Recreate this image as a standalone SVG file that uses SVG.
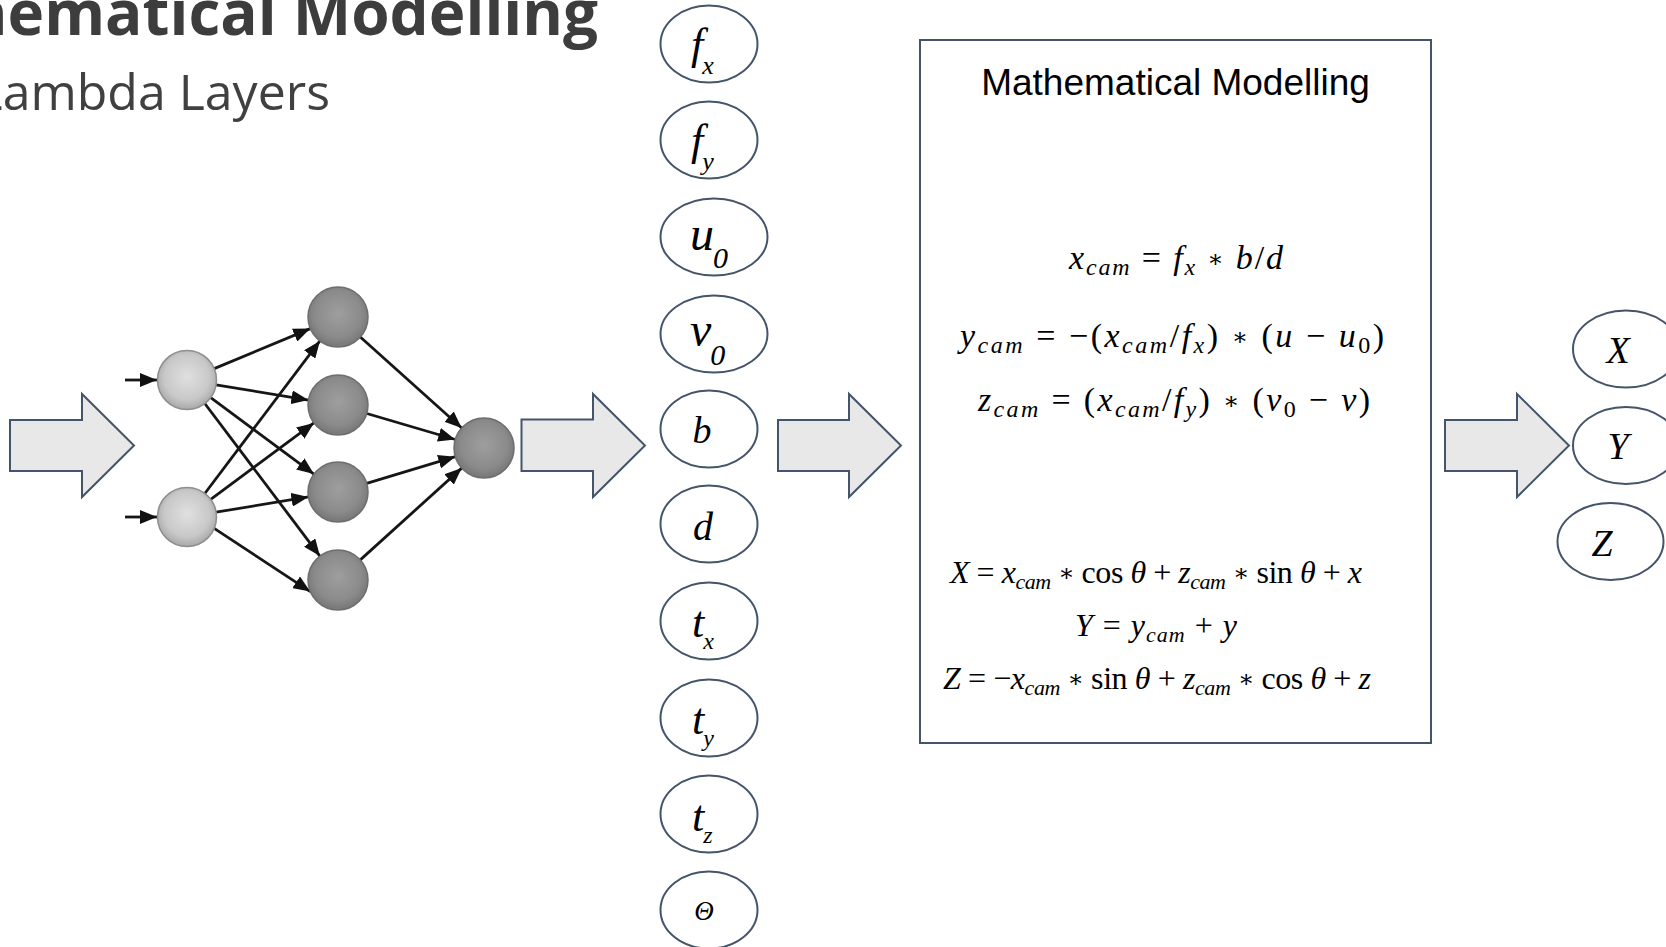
<svg xmlns="http://www.w3.org/2000/svg" width="1666" height="947" viewBox="0 0 1666 947">
<style>
.blk{fill:#e8e8e8;stroke:#44546a;stroke-width:2;stroke-linejoin:miter}
.ell{fill:#ffffff;stroke:#44546a;stroke-width:2}
.lbl{font-family:"Liberation Serif","Times New Roman",serif;font-style:italic;fill:#000}
.eq{font-family:"Liberation Serif","Times New Roman",serif;font-size:34px;fill:#000}
.eqb{font-family:"Liberation Serif","Times New Roman",serif;font-size:32px;fill:#000}
.i{font-style:italic}
.s{font-size:24px}
.s2{font-size:22px}
.ast{font-family:"DejaVu Serif",serif;font-size:24px;font-style:normal}
.edge{stroke:#161616;stroke-width:2.8;fill:none;marker-end:url(#ah)}
</style>
<defs>
<marker id="ah" markerUnits="userSpaceOnUse" markerWidth="18" markerHeight="14" refX="17" refY="7" orient="auto">
<path d="M0,0 L17,7 L0,14 z" fill="#111"/>
</marker>
<radialGradient id="gIn" cx="0.5" cy="0.45" r="0.55">
<stop offset="0" stop-color="#e0e0e0"/>
<stop offset="0.7" stop-color="#c8c8c8"/>
<stop offset="1" stop-color="#a8a8a8"/>
</radialGradient>
<radialGradient id="gHid" cx="0.5" cy="0.45" r="0.55">
<stop offset="0" stop-color="#9e9e9e"/>
<stop offset="0.7" stop-color="#8b8b8b"/>
<stop offset="1" stop-color="#767676"/>
</radialGradient>
</defs>
<rect width="1666" height="947" fill="#ffffff"/>

<g id="title">
<text x="598" y="35" text-anchor="end" font-family="'Open Sans',sans-serif" font-weight="700" font-size="62" fill="#3d3d3d">Mathematical Modelling</text>
<text x="330" y="110" text-anchor="end" font-family="'Open Sans',sans-serif" font-size="50" fill="#404040">Lambda Layers</text>
</g>

<g id="connectors">
<path class="blk" d="M10,420 H82 V394 L134,445.5 L82,497 V471 H10 Z"/>
<path class="blk" d="M521.5,419.5 H593 V394 L645,445.5 L593,497 V471 H521.5 Z"/>
<path class="blk" d="M778,420 H849 V394 L901,445.5 L849,497 V471 H778 Z"/>
<path class="blk" d="M1445,420 H1517 V394 L1569,445.5 L1517,497 V471 H1445 Z"/>
<line class="edge" x1="125" y1="380" x2="157" y2="380"/>
<line class="edge" x1="125" y1="517" x2="157" y2="517"/>
<line class="edge" x1="214.2" y1="368.6" x2="310.3" y2="328.6"/>
<line class="edge" x1="216.1" y1="384.8" x2="308.4" y2="400.1"/>
<line class="edge" x1="210.7" y1="397.6" x2="313.9" y2="474.1"/>
<line class="edge" x1="204.8" y1="403.5" x2="319.9" y2="556.1"/>
<line class="edge" x1="204.8" y1="493.5" x2="319.9" y2="340.9"/>
<line class="edge" x1="210.7" y1="499.4" x2="313.9" y2="422.9"/>
<line class="edge" x1="216.1" y1="512.2" x2="308.4" y2="496.9"/>
<line class="edge" x1="214.2" y1="528.4" x2="310.3" y2="591.6"/>
<line class="edge" x1="360.3" y1="337.0" x2="461.7" y2="428.0"/>
<line class="edge" x1="366.8" y1="413.5" x2="455.2" y2="439.5"/>
<line class="edge" x1="366.7" y1="483.3" x2="455.3" y2="456.7"/>
<line class="edge" x1="360.3" y1="559.9" x2="461.7" y2="468.1"/>
</g>

<g id="nn-in1"><circle cx="187" cy="380" r="29.5" fill="url(#gIn)" stroke="#8e8e8e" stroke-width="1.5"/></g>
<g id="nn-in2"><circle cx="187" cy="517" r="29.5" fill="url(#gIn)" stroke="#8e8e8e" stroke-width="1.5"/></g>
<g id="nn-h1"><circle cx="338" cy="317" r="30" fill="url(#gHid)" stroke="#6e6e6e" stroke-width="1.5"/></g>
<g id="nn-h2"><circle cx="338" cy="405" r="30" fill="url(#gHid)" stroke="#6e6e6e" stroke-width="1.5"/></g>
<g id="nn-h3"><circle cx="338" cy="492" r="30" fill="url(#gHid)" stroke="#6e6e6e" stroke-width="1.5"/></g>
<g id="nn-h4"><circle cx="338" cy="580" r="30" fill="url(#gHid)" stroke="#6e6e6e" stroke-width="1.5"/></g>
<g id="nn-out"><circle cx="484" cy="448" r="30" fill="url(#gHid)" stroke="#6e6e6e" stroke-width="1.5"/></g>

<g id="p-fx"><ellipse class="ell" cx="709" cy="44" rx="48.5" ry="38.5"/>
<text class="lbl" x="691" y="59" font-size="44">f<tspan font-size="26" dy="15" dx="-1">x</tspan></text></g>
<g id="p-fy"><ellipse class="ell" cx="709" cy="140" rx="48.5" ry="38.5"/>
<text class="lbl" x="691" y="155" font-size="44">f<tspan font-size="26" dy="15" dx="-1">y</tspan></text></g>
<g id="p-u0"><ellipse class="ell" cx="714" cy="237" rx="53.5" ry="38.5"/>
<text class="lbl" x="690" y="250" font-size="48">u<tspan font-size="30" dy="18" dx="-1">0</tspan></text></g>
<g id="p-v0"><ellipse class="ell" cx="714" cy="334" rx="53.5" ry="38.5"/>
<text class="lbl" x="690" y="346" font-size="48">v<tspan font-size="30" dy="19" dx="-1">0</tspan></text></g>
<g id="p-b"><ellipse class="ell" cx="709" cy="429" rx="48.5" ry="38.5"/>
<text class="lbl" x="702" y="443" font-size="38" text-anchor="middle">b</text></g>
<g id="p-d"><ellipse class="ell" cx="709" cy="524" rx="48.5" ry="38.5"/>
<text class="lbl" x="703" y="540" font-size="40" text-anchor="middle">d</text></g>
<g id="p-tx"><ellipse class="ell" cx="709" cy="621" rx="48.5" ry="38.5"/>
<text class="lbl" x="692" y="637" font-size="44">t<tspan font-size="24" dy="12" dx="-1">x</tspan></text></g>
<g id="p-ty"><ellipse class="ell" cx="709" cy="718" rx="48.5" ry="38.5"/>
<text class="lbl" x="692" y="734" font-size="44">t<tspan font-size="24" dy="12" dx="-1">y</tspan></text></g>
<g id="p-tz"><ellipse class="ell" cx="709" cy="814" rx="48.5" ry="38.5"/>
<text class="lbl" x="692" y="831" font-size="44">t<tspan font-size="24" dy="12" dx="-1">z</tspan></text></g>
<g id="p-theta"><ellipse class="ell" cx="709" cy="910" rx="48.5" ry="38.5"/>
<text class="lbl" x="704" y="920" font-size="27" text-anchor="middle">Θ</text></g>

<g id="math-box">
<rect x="920" y="40" width="511" height="703" fill="#ffffff" stroke="#44546a" stroke-width="2"/>
<text x="1175.5" y="95" text-anchor="middle" font-family="'Liberation Sans',Arial,sans-serif" font-size="37" fill="#000">Mathematical Modelling</text>
<text class="eq" x="1176" y="269" text-anchor="middle" textLength="214" lengthAdjust="spacing"><tspan class="i">x</tspan><tspan class="s i" dy="6">cam</tspan><tspan dy="-6"> = </tspan><tspan class="i">f</tspan><tspan class="s i" dy="6">x</tspan><tspan dy="-6"> </tspan><tspan class="ast" dy="-2">∗</tspan><tspan dy="2"> </tspan><tspan class="i">b</tspan>/<tspan class="i">d</tspan></text>
<text class="eq" x="1172" y="347" text-anchor="middle" textLength="424" lengthAdjust="spacing"><tspan class="i">y</tspan><tspan class="s i" dy="6">cam</tspan><tspan dy="-6"> = −(</tspan><tspan class="i">x</tspan><tspan class="s i" dy="6">cam</tspan><tspan dy="-6">/</tspan><tspan class="i">f</tspan><tspan class="s i" dy="6">x</tspan><tspan dy="-6">) </tspan><tspan class="ast" dy="-2">∗</tspan><tspan dy="2"> (</tspan><tspan class="i">u</tspan> − <tspan class="i">u</tspan><tspan class="s" dy="6">0</tspan><tspan dy="-6">)</tspan></text>
<text class="eq" x="1174" y="411" text-anchor="middle" textLength="392" lengthAdjust="spacing"><tspan class="i">z</tspan><tspan class="s i" dy="6">cam</tspan><tspan dy="-6"> = (</tspan><tspan class="i">x</tspan><tspan class="s i" dy="6">cam</tspan><tspan dy="-6">/</tspan><tspan class="i">f</tspan><tspan class="s i" dy="6">y</tspan><tspan dy="-6">) </tspan><tspan class="ast" dy="-2">∗</tspan><tspan dy="2"> (</tspan><tspan class="i">v</tspan><tspan class="s" dy="6">0</tspan><tspan dy="-6"> − </tspan><tspan class="i">v</tspan>)</text>
<text class="eqb" x="1156" y="583" text-anchor="middle" textLength="412" lengthAdjust="spacing"><tspan class="i">X</tspan> = <tspan class="i">x</tspan><tspan class="s2 i" dy="6">cam</tspan><tspan dy="-6"> </tspan><tspan class="ast" dy="-2">∗</tspan><tspan dy="2"> cos </tspan><tspan class="i">θ</tspan> + <tspan class="i">z</tspan><tspan class="s2 i" dy="6">cam</tspan><tspan dy="-6"> </tspan><tspan class="ast" dy="-2">∗</tspan><tspan dy="2"> sin </tspan><tspan class="i">θ</tspan> + <tspan class="i">x</tspan></text>
<text class="eqb" x="1156" y="636" text-anchor="middle" textLength="162" lengthAdjust="spacing"><tspan class="i">Y</tspan> = <tspan class="i">y</tspan><tspan class="s2 i" dy="6">cam</tspan><tspan dy="-6"> + </tspan><tspan class="i">y</tspan></text>
<text class="eqb" x="1157" y="689" text-anchor="middle" textLength="428" lengthAdjust="spacing"><tspan class="i">Z</tspan> = −<tspan class="i">x</tspan><tspan class="s2 i" dy="6">cam</tspan><tspan dy="-6"> </tspan><tspan class="ast" dy="-2">∗</tspan><tspan dy="2"> sin </tspan><tspan class="i">θ</tspan> + <tspan class="i">z</tspan><tspan class="s2 i" dy="6">cam</tspan><tspan dy="-6"> </tspan><tspan class="ast" dy="-2">∗</tspan><tspan dy="2"> cos </tspan><tspan class="i">θ</tspan> + <tspan class="i">z</tspan></text>
</g>

<g id="out-X"><ellipse class="ell" cx="1626" cy="349" rx="53" ry="38.5"/>
<text class="lbl" x="1618" y="363" font-size="38" text-anchor="middle">X</text></g>
<g id="out-Y"><ellipse class="ell" cx="1626" cy="445.5" rx="53" ry="38.5"/>
<text class="lbl" x="1618" y="459" font-size="38" text-anchor="middle">Y</text></g>
<g id="out-Z"><ellipse class="ell" cx="1610.5" cy="541.5" rx="53" ry="38.5"/>
<text class="lbl" x="1602" y="556" font-size="38" text-anchor="middle">Z</text></g>
</svg>
